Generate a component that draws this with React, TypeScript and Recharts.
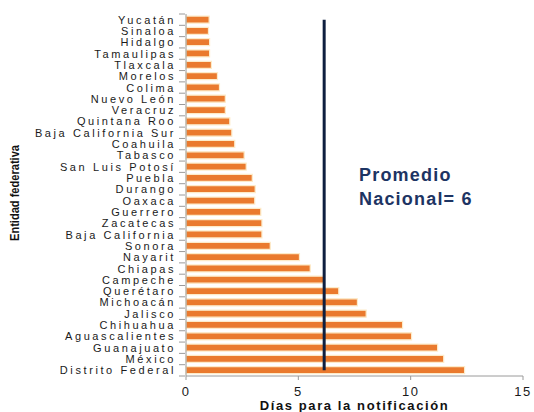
import React from "react";
import {
  BarChart,
  Bar,
  XAxis,
  YAxis,
  ReferenceLine,
  Label,
} from "recharts";

const estados = [
  "Yucatán",
  "Sinaloa",
  "Hidalgo",
  "Tamaulipas",
  "Tlaxcala",
  "Morelos",
  "Colima",
  "Nuevo León",
  "Veracruz",
  "Quintana Roo",
  "Baja California Sur",
  "Coahuila",
  "Tabasco",
  "San  Luis Potosí",
  "Puebla",
  "Durango",
  "Oaxaca",
  "Guerrero",
  "Zacatecas",
  "Baja California",
  "Sonora",
  "Nayarit",
  "Chiapas",
  "Campeche",
  "Querétaro",
  "Michoacán",
  "Jalisco",
  "Chihuahua",
  "Aguascalientes",
  "Guanajuato",
  "México",
  "Distrito Federal",
];

const dias = [
  1.03, 1.0, 1.05, 1.05, 1.13, 1.4, 1.49, 1.75, 1.75, 1.95, 2.04, 2.17, 2.59,
  2.68, 2.95, 3.08, 3.06, 3.33, 3.38, 3.38, 3.75, 5.05, 5.53, 6.14, 6.8, 7.63,
  8.02, 9.64, 10.04, 11.2, 11.47, 12.4,
];

const xTicks = [0, 5, 10, 15];
const promedio = 6.15;

const data = estados.map((name, i) => ({ name, value: dias[i] }));

// body margin is removed below, so chart coords = page coords
const W = 534;
const H = 412;
const TOP = 14;
const AXIS_H = 36;
const band = (H - TOP - AXIS_H) / estados.length;

const CategoryTick = (props: any) => {
  const { x, y, payload, index } = props;
  const ax = x + 7;
  return (
    <g>
      <line x1={ax - 6} x2={ax} y1={y - band / 2} y2={y - band / 2} stroke="#9a9a9a" />
      {index === estados.length - 1 && (
        <line x1={ax - 6} x2={ax} y1={y + band / 2} y2={y + band / 2} stroke="#9a9a9a" />
      )}
      <text
        x={x - 2}
        y={y}
        dy={4}
        textAnchor="end"
        fontSize={11}
        letterSpacing={2.6}
        fill="#1a1a1a"
        fontFamily="Liberation Sans, Arial, sans-serif"
      >
        {payload.value}
      </text>
    </g>
  );
};

const YTitle = () => (
  <text
    transform="translate(19,193) rotate(-90)"
    textAnchor="middle"
    fontSize={12}
    fontWeight="bold"
    fill="#111"
    textLength={96}
    lengthAdjust="spacingAndGlyphs"
    fontFamily="Liberation Sans Narrow, Liberation Sans, Arial, sans-serif"
  >
    Entidad federativa
  </text>
);

export default function App() {
  return (
    <div style={{ position: "relative", width: W, height: H, overflow: "hidden" }}>
      <style>{"html,body{margin:0;padding:0;overflow:hidden}"}</style>
      <BarChart
        width={W}
        height={H}
        data={data}
        layout="vertical"
        margin={{ top: TOP, right: 11, bottom: 0, left: 8 }}
        barCategoryGap="18%"
      >
        <XAxis
          type="number"
          domain={[0, 15]}
          ticks={xTicks}
          height={AXIS_H}
          stroke="#9a9a9a"
          tickSize={4}
          tickMargin={7}
          tick={{
            fill: "#1a1a1a",
            fontSize: 13,
            fontFamily: "Liberation Sans, Arial, sans-serif",
            letterSpacing: 1.5,
          }}
        >
          <Label
            value="Días para la notificación"
            position="insideBottom"
            offset={2}
            style={{
              fill: "#111",
              fontSize: 13,
              fontWeight: "bold",
              letterSpacing: 1.6,
              fontFamily: "Liberation Sans, Arial, sans-serif",
            }}
          />
        </XAxis>
        <YAxis
          type="category"
          dataKey="name"
          width={178}
          stroke="#9a9a9a"
          tickLine={false}
          tick={<CategoryTick />}
          interval={0}
        >
          <Label content={<YTitle />} />
        </YAxis>
        <Bar
          dataKey="value"
          fill="#ea7a2e"
          stroke="#fdebc9"
          strokeWidth={1.2}
          isAnimationActive={false}
        />
        <ReferenceLine
          segment={[
            { x: promedio, y: estados[0] },
            { x: promedio, y: estados[estados.length - 1] },
          ]}
          stroke="#0f1f3f"
          strokeWidth={3}
        />
      </BarChart>
      <div
        style={{
          position: "absolute",
          left: 359,
          top: 163,
          color: "#1d3463",
          fontFamily: "Liberation Sans, Arial, sans-serif",
          fontWeight: "bold",
          fontSize: 18,
          lineHeight: "24px",
          letterSpacing: 1.2,
        }}
      >
        Promedio
        <br />
        Nacional= 6
      </div>
    </div>
  );
}
